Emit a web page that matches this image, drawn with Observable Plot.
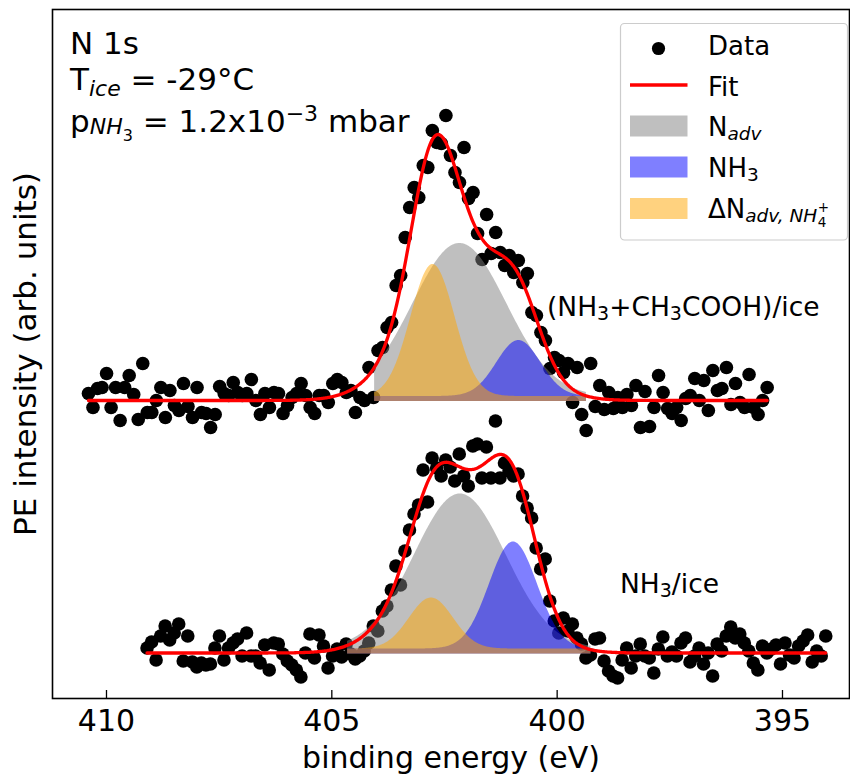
<!DOCTYPE html>
<html><head><meta charset="utf-8">
<script src="https://cdn.jsdelivr.net/npm/d3@7"></script>
<script src="https://cdn.jsdelivr.net/npm/@observablehq/plot@0.6"></script>
<style>
body{margin:0;background:#fff;}
#wrap{width:850px;height:782px;}
</style></head><body><div id="wrap"></div>
<script>
// ---- data (intensity offsets above each spectrum's baseline, arb. units) ----
const topIntensity = [
 7,-7,12,13,27,-7,13,-20,13,25,
 6,-19,37,-12,-12,0,13,-17,10,-5,
 -10,17,-6,-17,13,-12,-13,-27,-14,14,
 7,5,18,8,5,7,21,0,-14,7,
 -7,8,7,-13,-5,3,7,17,5,-7,
 -13,5,5,-2,17,21,18,8,10,-12,
 3,0,33,3,50,53,73,78,115,125,
 163,193,213,203,235,233,270,258,257,285,
 245,228,218,253,202,208,167,141,186,147,
 168,148,135,145,128,140,118,127,88,85,
 68,60,32,43,40,28,37,-2,33,-14,
 -30,37,-6,15,-9,8,-8,3,-7,6,
 -5,15,-27,9,-26,-7,25,8,-8,-13,
 -7,-20,2,5,22,0,20,-10,30,10,
 12,33,-4,17,-2,-7,26,-7,-14,0,
 13];
const bottomIntensity = [
 5,11,-7,17,27,13,20,29,-8,17,
 -9,-14,-10,-12,-11,5,17,-7,5,10,
 14,-3,20,-3,-3,-10,8,-17,10,9,
 -1,-8,-12,-17,-24,0,19,-5,18,7,
 -15,-3,4,-4,9,-1,-6,-3,2,10,
 27,22,42,47,63,87,68,102,123,139,
 148,183,151,195,185,177,193,186,172,199,
 177,167,207,209,175,206,175,232,175,190,
 182,177,179,157,145,135,105,84,94,52,
 32,20,35,22,29,15,9,-5,-2,14,
 15,-8,-18,-23,-25,-7,5,-15,-3,9,
 -3,-5,-20,4,16,-3,1,-3,10,15,
 -9,-3,5,-11,0,-23,9,2,17,26,
 15,19,10,2,-10,-17,7,0,4,8,
 -11,10,-2,-5,7,12,18,-9,2,-3,
 17];
const topStartEV = 410.40;
const bottomStartEV = 409.10;
const stepEV = 0.1004;
const topBaseline = 298;
const bottomBaseline = 45.5;

// fitted components: [N_adv (gray), NH3 (blue), ΔN_adv,NH4+ (orange)]
const componentColors = ["gray", "blue", "orange"];
const topCenters = [402.16, 400.85, 402.756];
const topSigmas = [1.043, 0.488, 0.488];
const topAmplitudes = [153, 56, 132];
const bottomCenters = [402.15, 400.97, 402.79];
const bottomSigmas = [1.02, 0.533, 0.488];
const bottomAmplitudes = [155, 107, 51];
const topFillRange = [404.05, 399.35];
const bottomFillRange = [404.65, 399.25];
const fillOffset = 4;

const xTicks = [410, 405, 400, 395];
const xDomain = [411.198, 393.513];

// ---- build tables ----
const points = [];
topIntensity.forEach((v, i) => points.push({spec: "top", E: topStartEV - i * stepEV, I: topBaseline + v}));
bottomIntensity.forEach((v, i) => points.push({spec: "bottom", E: bottomStartEV - i * stepEV, I: bottomBaseline + v}));

const gauss = (E, c, s, a) => a * Math.exp(-0.5 * ((E - c) / s) ** 2);
const specs = [
  {spec: "top", base: topBaseline, c: topCenters, s: topSigmas, a: topAmplitudes, fill: topFillRange,
   span: [topStartEV, topStartEV - (topIntensity.length - 1) * stepEV]},
  {spec: "bottom", base: bottomBaseline, c: bottomCenters, s: bottomSigmas, a: bottomAmplitudes, fill: bottomFillRange,
   span: [bottomStartEV, bottomStartEV - (bottomIntensity.length - 1) * stepEV]}
];
const fitRows = [];
const compRows = [[], [], []];
for (const sp of specs) {
  const n = Math.round((sp.span[0] - sp.span[1]) / 0.02);
  for (let j = 0; j <= n; j++) {
    const E = sp.span[0] - j * (sp.span[0] - sp.span[1]) / n;
    let sum = 0;
    for (let k = 0; k < 3; k++) sum += gauss(E, sp.c[k], sp.s[k], sp.a[k]);
    fitRows.push({spec: sp.spec, E, I: sp.base + sum});
  }
  const m = Math.round((sp.fill[0] - sp.fill[1]) / 0.02);
  for (let j = 0; j <= m; j++) {
    const E = sp.fill[0] - j * (sp.fill[0] - sp.fill[1]) / m;
    for (let k = 0; k < 3; k++)
      compRows[k].push({spec: sp.spec, E, lo: sp.base - 1, hi: sp.base + fillOffset + gauss(E, sp.c[k], sp.s[k], sp.a[k])});
  }
}

const FONT = "DejaVu Sans";
const plot = Plot.plot({
  width: 850, height: 782,
  marginLeft: 52, marginRight: 1, marginTop: 9, marginBottom: 84,
  style: {fontFamily: FONT, fontSize: "30px", color: "black", background: "white"},
  x: {domain: xDomain},
  y: {domain: [0, 689], axis: null},
  marks: [
    Plot.dot(points, {x: "E", y: "I", r: 6.8, fill: "black", stroke: "none"}),
    ...compRows.map((rows, k) => Plot.areaY(rows, {x: "E", y1: "lo", y2: "hi", z: "spec", fill: componentColors[k], fillOpacity: 0.5})),
    Plot.line(fitRows, {x: "E", y: "I", z: "spec", stroke: "red", strokeWidth: 3.3}),
    Plot.frame({stroke: "black", strokeWidth: 1.6}),
    Plot.ruleX(xTicks, {stroke: "black", strokeWidth: 1.3, insetTop: 681}),
    Plot.axisX(xTicks, {tickSize: 0, tickPadding: 11, fontSize: 30, label: null}),
    Plot.text(["binding energy (eV)"], {frameAnchor: "bottom", lineAnchor: "middle", dy: 60, fontSize: 30, textAnchor: "middle"}),
    Plot.text(["PE intensity (arb. units)"], {frameAnchor: "left", lineAnchor: "middle", dx: -26, rotate: -90, fontSize: 31, textAnchor: "middle"})
  ]
});
document.getElementById("wrap").appendChild(plot);

// ---- rich text helper ----
const svg = d3.select(plot);
function rich(g, x, y, segs, size) {
  const t = g.append("text").attr("x", x).attr("y", y).attr("font-family", FONT).attr("font-size", size)
    .attr("fill", "black").attr("text-anchor", "start");
  let cur = 0;
  for (const s of segs) {
    const sh = s.shift || 0;
    const ts = t.append("tspan").attr("dy", sh - cur).text(s.t);
    cur = sh;
    if (s.size) ts.attr("font-size", s.size);
    if (s.it) ts.attr("font-style", "italic");
  }
  return t;
}
const ann = svg.append("g");
rich(ann, 70, 54, [{t: "N 1s"}], 31);
rich(ann, 70, 90, [{t: "T"}, {t: "ice", it: 1, size: 22, shift: 6}, {t: " = -29°C", shift: 0}], 31);
rich(ann, 70, 132, [{t: "p"}, {t: "NH", it: 1, size: 22, shift: 2}, {t: "3", size: 16, shift: 9},
  {t: " = 1.2x10", shift: 0}, {t: "\u22123", size: 22, shift: -11}, {t: " mbar", shift: 0}], 31);
rich(ann, 547, 316, [{t: "(NH"}, {t: "3", size: 19, shift: 4}, {t: "+CH", shift: 0}, {t: "3", size: 19, shift: 4},
  {t: "COOH)/ice", shift: 0}], 26.5);
rich(ann, 620, 593, [{t: "NH"}, {t: "3", size: 19, shift: 4}, {t: "/ice", shift: 0}], 26.5);

// ---- legend ----
const lg = svg.append("g");
lg.append("rect").attr("x", 620.5).attr("y", 23.5).attr("width", 227).attr("height", 216.5).attr("rx", 4)
  .attr("fill", "white").attr("fill-opacity", 0.8).attr("stroke", "#cccccc").attr("stroke-width", 1.2);
lg.append("circle").attr("cx", 658.5).attr("cy", 48.5).attr("r", 6.6).attr("fill", "black");
lg.append("line").attr("x1", 630).attr("x2", 687.5).attr("y1", 85).attr("y2", 85).attr("stroke", "red").attr("stroke-width", 3.3);
const patchY = [115.5, 156.5, 198];
[0, 1, 2].forEach(k => lg.append("rect").attr("x", 630).attr("y", patchY[k]).attr("width", 57.5).attr("height", 21)
  .attr("fill", componentColors[k]).attr("fill-opacity", 0.5));
rich(lg, 708, 54.5, [{t: "Data"}], 26);
rich(lg, 708, 95.5, [{t: "Fit"}], 26);
rich(lg, 708, 135.5, [{t: "N"}, {t: "adv", it: 1, size: 18.5, shift: 4}], 26);
rich(lg, 708, 176.5, [{t: "NH"}, {t: "3", size: 18.5, shift: 4}], 26);
const lt = rich(lg, 708, 218, [{t: "\u0394N"}, {t: "adv, NH", it: 1, size: 18.5, shift: 4}], 26);
const Lw = lt.node().getComputedTextLength();
rich(lg, 708 + Lw + 0.5, 226.5, [{t: "4"}], 13.5);
rich(lg, 708 + Lw + 0.5, 212, [{t: "+"}], 13.5);
</script>
</body></html>
